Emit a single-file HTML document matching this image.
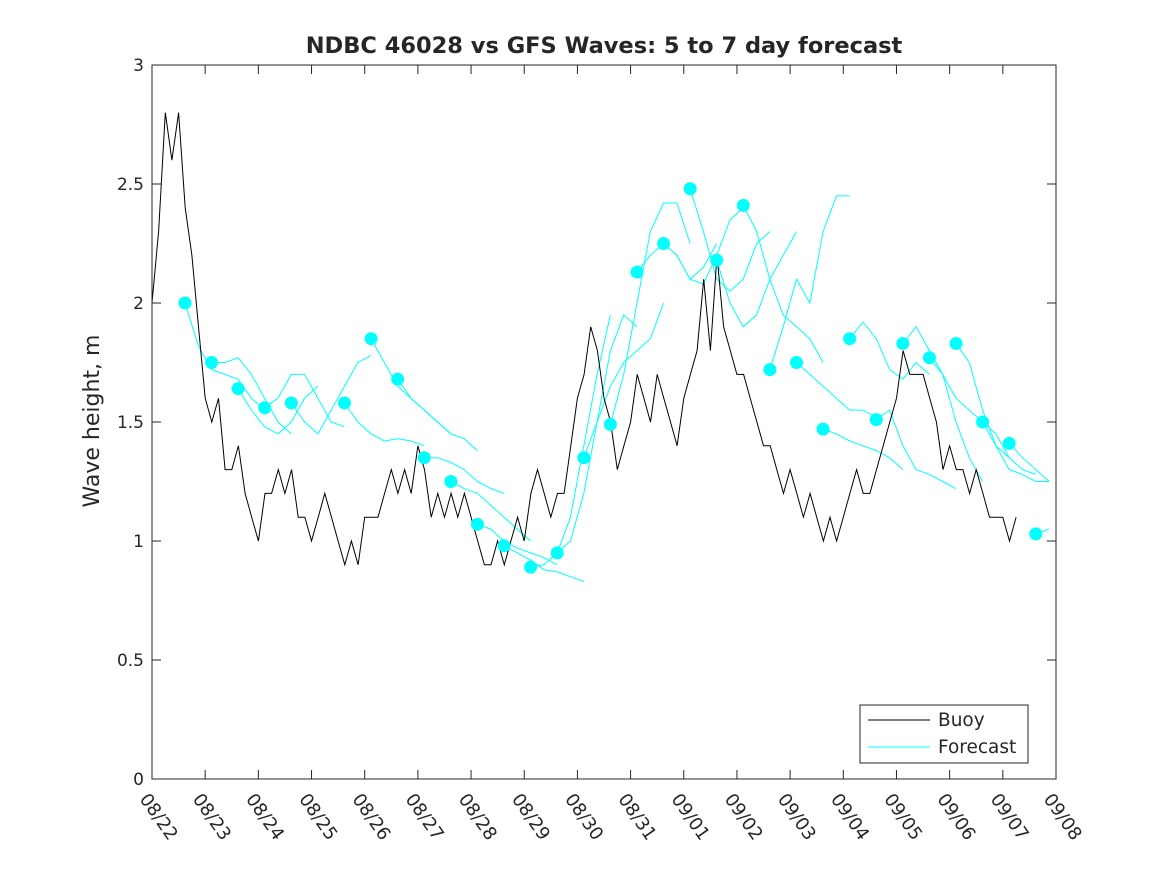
<!DOCTYPE html>
<html><head><meta charset="utf-8"><style>
body{margin:0;background:#fff;}
svg text{font-family:"DejaVu Sans","Liberation Sans",sans-serif;fill:#262626;}
</style></head><body>
<svg id="chart" width="1167" height="875" xmlns="http://www.w3.org/2000/svg">
<rect x="0" y="0" width="1167" height="875" fill="#fff"/>
<text x="604" y="53" text-anchor="middle" font-size="22.5" font-weight="bold">NDBC 46028 vs GFS Waves: 5 to 7 day forecast</text>
<text transform="translate(99,421) rotate(-90)" text-anchor="middle" font-size="22">Wave height, m</text>
<g id="plot"></g>
</svg>
<script>
const xTickLabels=["08/22","08/23","08/24","08/25","08/26","08/27","08/28","08/29","08/30","08/31","09/01","09/02","09/03","09/04","09/05","09/06","09/07","09/08"];
const yTicks=[0,0.5,1,1.5,2,2.5,3];
const yTickLabels=["0","0.5","1","1.5","2","2.5","3"];
const buoyStep=0.125;
const buoy=[2.0,2.3,2.8,2.6,2.8,2.4,2.2,1.9,1.6,1.5,1.6,1.3,1.3,1.4,1.2,1.1,1.0,1.2,1.2,1.3,1.2,1.3,1.1,1.1,1.0,1.1,1.2,1.1,1.0,0.9,1.0,0.9,1.1,1.1,1.1,1.2,1.3,1.2,1.3,1.2,1.4,1.3,1.1,1.2,1.1,1.2,1.1,1.2,1.1,1.0,0.9,0.9,1.0,0.9,1.0,1.1,1.0,1.2,1.3,1.2,1.1,1.2,1.2,1.4,1.6,1.7,1.9,1.8,1.6,1.5,1.3,1.4,1.5,1.7,1.6,1.5,1.7,1.6,1.5,1.4,1.6,1.7,1.8,2.1,1.8,2.2,1.9,1.8,1.7,1.7,1.6,1.5,1.4,1.4,1.3,1.2,1.3,1.2,1.1,1.2,1.1,1.0,1.1,1.0,1.1,1.2,1.3,1.2,1.2,1.3,1.4,1.5,1.6,1.8,1.7,1.7,1.7,1.6,1.5,1.3,1.4,1.3,1.3,1.2,1.3,1.2,1.1,1.1,1.1,1.0,1.1];
const dotStart=0.62, dotStep=0.5, fcStep=0.25;
const dots=[2.0,1.75,1.64,1.56,1.58,null,1.58,1.85,1.68,1.35,1.25,1.07,0.98,0.89,0.95,1.35,1.49,2.13,2.25,2.48,2.18,2.41,1.72,1.75,1.47,1.85,1.51,1.83,1.77,1.83,1.50,1.41,1.03];
const forecasts=[
[2.0,1.82,1.72,1.7,1.68,1.6,1.55],
[1.75,1.75,1.77,1.7,1.6,1.5,1.45],
[1.64,1.55,1.48,1.45,1.5,1.6,1.65],
[1.56,1.6,1.7,1.7,1.6,1.5,1.48],
[1.58,1.5,1.45,1.55,1.65,1.75,1.78],
null,
[1.58,1.5,1.45,1.42,1.43,1.42,1.4],
[1.85,1.75,1.65,1.6,1.55,1.5,1.45],
[1.68,1.6,1.55,1.5,1.45,1.43,1.38],
[1.35,1.35,1.33,1.3,1.25,1.22,1.2],
[1.25,1.22,1.2,1.15,1.1,1.05,1.0],
[1.07,1.05,1.0,0.97,0.95,0.93,0.9],
[0.98,0.95,0.92,0.88,0.87,0.85,0.83],
[0.89,0.9,0.95,1.1,1.4,1.7,1.95],
[0.95,1.0,1.2,1.5,1.8,1.95,1.9],
[1.35,1.5,1.65,1.75,1.8,1.85,2.0],
[1.49,1.7,2.0,2.3,2.42,2.42,2.25],
[2.13,2.2,2.25,2.2,2.1,2.15,2.25],
[2.25,2.2,2.1,2.08,2.2,2.35,2.4],
[2.48,2.3,2.1,2.05,2.1,2.25,2.3],
[2.18,2.0,1.9,1.95,2.1,2.2,2.3],
[2.41,2.3,2.1,1.95,1.9,1.85,1.75],
[1.72,1.9,2.1,2.0,2.3,2.45,2.45],
[1.75,1.7,1.65,1.6,1.55,1.55,1.52],
[1.47,1.45,1.42,1.4,1.38,1.35,1.3],
[1.85,1.92,1.85,1.72,1.68,1.75,1.7],
[1.51,1.55,1.4,1.3,1.28,1.25,1.22],
[1.83,1.9,1.8,1.7,1.5,1.35,1.25],
[1.77,1.7,1.6,1.55,1.5,1.45,1.35],
[1.83,1.75,1.55,1.4,1.35,1.3,1.28],
[1.50,1.4,1.3,1.28,1.25,1.25,1.3],
[1.41,1.35,1.3,1.25,1.18,1.12,1.1],
[1.03,1.05,1.15,1.3,1.48]
];
const L=152,R=1056,T=65,B=779,XMAX=17,YMAX=3;
const xs=d=>L+(R-L)*d/XMAX;
const ys=v=>B-(B-T)*v/YMAX;
const NS="http://www.w3.org/2000/svg";
const g=document.getElementById('plot');
function mk(tag,attrs,parent){const e=document.createElementNS(NS,tag);for(const k in attrs)e.setAttribute(k,attrs[k]);(parent||g).appendChild(e);return e;}
forecasts.forEach((f,k)=>{if(!f)return;const pts=[];f.forEach((v,j)=>{const d=dotStart+dotStep*k+fcStep*j;if(d<=XMAX)pts.push(xs(d).toFixed(1)+','+ys(v).toFixed(1));});
const p=mk('polyline',{points:pts.join(' '),fill:'none',stroke:'#00ffff','stroke-width':1});

});
const bp=mk('polyline',{points:buoy.map((v,i)=>xs(i*buoyStep).toFixed(1)+','+ys(v).toFixed(1)).join(' '),fill:'none',stroke:'#000','stroke-width':1});


dots.forEach((v,k)=>{if(v==null)return;const c=mk('circle',{cx:xs(dotStart+dotStep*k),cy:ys(v),r:6.5,fill:'#00ffff'});

});
const box=mk('rect',{x:L,y:T,width:R-L,height:B-T,fill:'none',stroke:'#262626','stroke-width':1});


xTickLabels.forEach((lab,i)=>{const x=xs(i);
mk('line',{x1:x,y1:B,x2:x,y2:B-9,stroke:'#262626'});mk('line',{x1:x,y1:T,x2:x,y2:T+9,stroke:'#262626'});
const t=mk('text',{transform:`translate(${x-13},${799}) rotate(55)`,'font-size':18});t.textContent=lab;

});
yTicks.forEach((v,i)=>{const y=ys(v);
mk('line',{x1:L,y1:y,x2:L+9,y2:y,stroke:'#262626'});mk('line',{x1:R,y1:y,x2:R-9,y2:y,stroke:'#262626'});
const t=mk('text',{x:L-8,y:y+6,'text-anchor':'end','font-size':17});t.textContent=yTickLabels[i];

});
const lg=mk('g',{});


mk('rect',{x:860,y:705,width:168,height:58,fill:'#fff',stroke:'#262626'},lg);
mk('line',{x1:868,y1:720,x2:930,y2:720,stroke:'#000'},lg);
mk('line',{x1:868,y1:747,x2:930,y2:747,stroke:'#00ffff'},lg);
const t1=mk('text',{x:938,y:726,'font-size':18.5},lg);t1.textContent='Buoy';


const t2=mk('text',{x:938,y:753,'font-size':18.5},lg);t2.textContent='Forecast';


</script>
</body></html>
